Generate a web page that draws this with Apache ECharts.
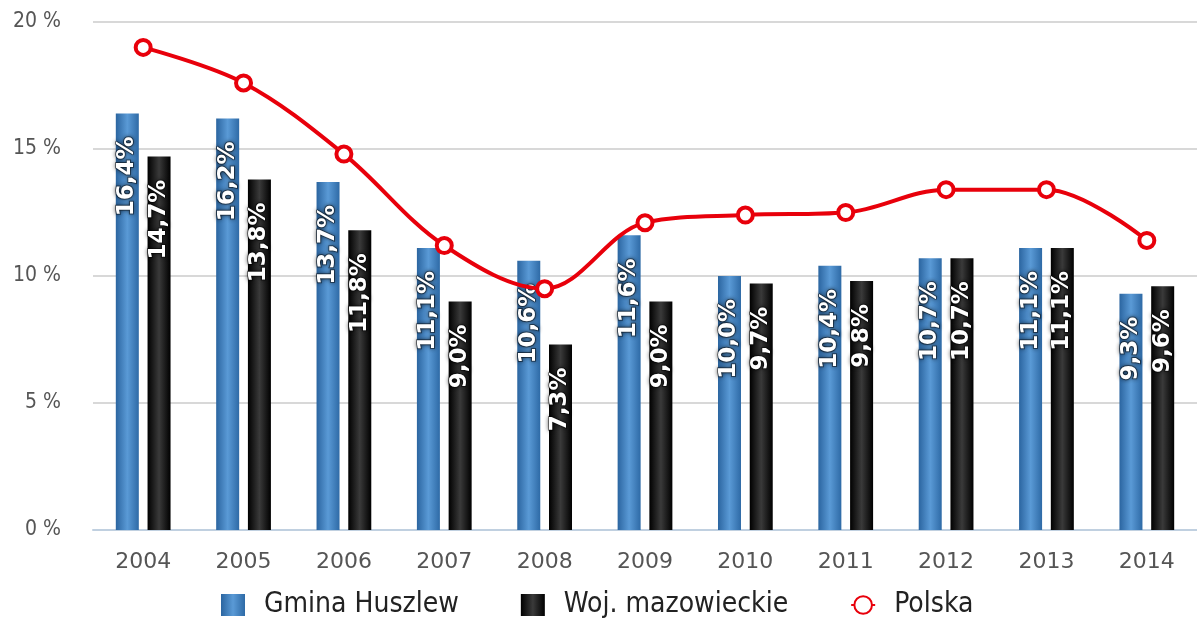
<!DOCTYPE html>
<html>
<head>
<meta charset="utf-8">
<script src="https://cdn.jsdelivr.net/npm/echarts@6/dist/echarts.min.js"></script>
<style>
    html, body { margin: 0; padding: 0; background: #fff; }
    .container { width: 1197px; height: 643px; }
</style>
</head>
<body>
<div class="container"></div>
<script>
const years = ['2004', '2005', '2006', '2007', '2008', '2009', '2010', '2011', '2012', '2013', '2014'];
const gmina = [16.4, 16.2, 13.7, 11.1, 10.6, 11.6, 10.0, 10.4, 10.7, 11.1, 9.3];
const wojewodztwo = [14.7, 13.8, 11.8, 9.0, 7.3, 9.0, 9.7, 9.8, 10.7, 11.1, 9.6];
const polska = [19.0, 17.6, 14.8, 11.2, 9.5, 12.1, 12.4, 12.5, 13.4, 13.4, 11.4];

(function(){
    let myChart = echarts.init(document.querySelector('.container'));

    // etykiety obrócone o 90 stopni, offset liczony w układzie obróconym
    const barLabel = {
        show: true,
        position: 'insideTop',
        rotate: 90,
        align: 'right',
        verticalAlign: 'middle',
        offset: [-18, 0],
        color: '#fff',
        fontSize: 23,
        fontWeight: 'bold',
        fontFamily: 'DejaVu Sans',
        textBorderColor: 'rgba(0,0,0,0.45)',
        textBorderWidth: 2,
        textShadowColor: 'rgba(0,0,0,0.6)',
        textShadowBlur: 4,
        formatter: p => p.value.toFixed(1).replace('.', ',') + '%'
    };

    const blueFill = new echarts.graphic.LinearGradient(0, 0, 1, 0, [
        { offset: 0, color: '#2b65a0' },
        { offset: 0.5, color: '#5a9ad6' },
        { offset: 1, color: '#2e6aa6' }
    ]);
    const blackFill = new echarts.graphic.LinearGradient(0, 0, 1, 0, [
        { offset: 0, color: '#000' },
        { offset: 0.5, color: '#3a3a3a' },
        { offset: 1, color: '#000' }
    ]);

    const option = {
        animation: false,
        legend: {
            bottom: 19,
            left: 216,
            itemGap: 62,
            itemWidth: 24,
            itemHeight: 22,
            textStyle: {
                color: '#222',
                fontSize: 28,
                fontFamily: 'DejaVu Sans Condensed',
                padding: [0, 0, 0, 14]
            },
            data: [
                { name: 'Gmina Huszlew', icon: 'rect' },
                { name: 'Woj. mazowieckie', icon: 'rect' },
                { name: 'Polska' }
            ]
        },
        grid: {
            left: 93,
            right: -18,
            top: 22,
            bottom: 113
        },
        xAxis: {
            type: 'category',
            data: years,
            axisLine: {
                lineStyle: { color: '#c0d0e0', width: 2 }
            },
            axisTick: {
                length: 19,
                lineStyle: { color: '#c0d0e0', width: 2 }
            },
            axisLabel: {
                color: '#555',
                fontSize: 22,
                fontFamily: 'DejaVu Sans',
                margin: 21
            }
        },
        yAxis: {
            type: 'value',
            min: 0,
            max: 20,
            interval: 5,
            axisLabel: {
                color: '#555',
                fontSize: 21,
                fontFamily: 'DejaVu Sans Condensed',
                margin: 32,
                formatter: '{value} %'
            },
            splitLine: {
                lineStyle: { color: '#d8d8d8', width: 2 }
            }
        },
        series: [
            {
                name: 'Gmina Huszlew',
                type: 'bar',
                data: gmina,
                barWidth: 23,
                barGap: '38%',
                itemStyle: { color: blueFill },
                label: barLabel
            },
            {
                name: 'Woj. mazowieckie',
                type: 'bar',
                data: wojewodztwo,
                barWidth: 23,
                itemStyle: { color: blackFill },
                label: barLabel
            },
            {
                name: 'Polska',
                type: 'line',
                data: polska,
                smooth: 0.35,
                symbol: 'circle',
                symbolSize: 15,
                itemStyle: {
                    color: '#fff',
                    borderColor: '#e8000b',
                    borderWidth: 4
                },
                lineStyle: {
                    color: '#e8000b',
                    width: 4
                }
            }
        ]
    };

    myChart.setOption(option);
})();
</script>
</body>
</html>
